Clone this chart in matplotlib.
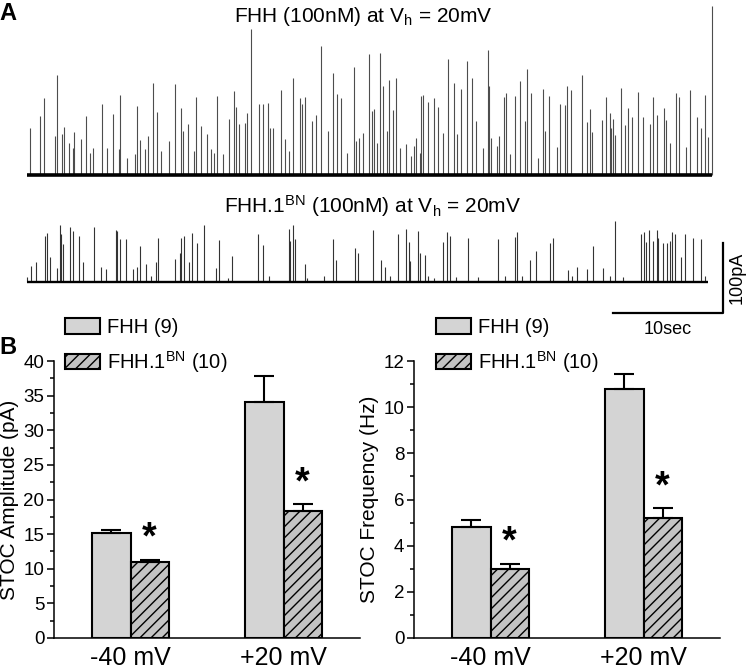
#!/usr/bin/env python3

import numpy as np
import matplotlib
matplotlib.use('Agg')
import matplotlib.pyplot as plt
import matplotlib.patches as mpatches

plt.rcParams['font.family'] = ['Liberation Sans', 'DejaVu Sans']
plt.rcParams['mathtext.fontset'] = 'custom'
plt.rcParams['mathtext.rm'] = 'Liberation Sans'
plt.rcParams['mathtext.it'] = 'Liberation Sans'
plt.rcParams['hatch.linewidth'] = 1.0

# STOC events: time (s), amplitude (pA)
fhh_t = [0.3, 1.2, 1.5, 2.5, 2.7, 3.2, 3.4, 3.8, 4.2, 4.3, 4.9, 5.4, 5.7, 6.0, 6.8, 7.3, 7.8,
         8.4, 8.5, 9.1, 9.8, 10.0, 10.3, 10.7, 11.0, 11.5, 11.8, 12.2, 12.9, 13.5, 14.0, 14.2,
         14.6, 15.2, 15.4, 15.8, 16.4, 16.7, 17.0, 17.3, 17.8, 18.4, 18.8, 19.0, 19.3, 19.8,
         20.0, 20.4, 21.1, 21.5, 21.9, 22.1, 22.4, 23.1, 23.5, 23.8, 24.2, 24.8, 25.0, 25.3,
         25.9, 26.3, 26.7, 27.4, 27.8, 28.2, 28.6, 29.1, 29.7, 29.9, 30.2, 30.6, 31.1, 31.4,
         31.6, 31.8, 32.1, 32.4, 32.7, 32.9, 33.3, 33.6, 33.9, 34.5, 34.9, 35.2, 35.4, 35.7,
         35.8, 36.0, 36.5, 37.0, 37.4, 37.8, 38.3, 38.8, 39.1, 39.5, 40.0, 40.5, 40.8, 41.5,
         41.9, 42.0, 42.2, 42.7, 42.9, 43.4, 43.6, 43.9, 44.4, 44.8, 45.3, 45.5, 45.8, 46.5,
         46.9, 47.1, 47.5, 48.2, 48.5, 48.9, 49.1, 49.5, 50.5, 50.9, 51.2, 51.4, 52.3, 52.7,
         53.0, 53.1, 53.3, 53.5, 54.0, 54.4, 54.7, 55.0, 55.6, 56.0, 56.7, 56.9, 57.3, 57.9,
         58.1, 58.5, 59.0, 59.3, 59.9, 60.3, 60.9, 61.3, 61.7, 61.9, 62.3]
fhh_a = [67, 84, 110, 56, 143, 58, 69, 46, 39, 62, 51, 84, 31, 39, 101, 39, 87,
         37, 114, 24, 30, 99, 50, 37, 56, 131, 90, 34, 49, 130, 96, 63,
         73, 34, 111, 70, 58, 37, 32, 113, 30, 80, 120, 97, 73, 74,
         89, 209, 101, 101, 103, 67, 67, 121, 51, 34, 139, 110, 101, 111,
         77, 86, 184, 63, 146, 116, 110, 32, 154, 49, 53, 60, 173, 91,
         94, 46, 174, 127, 63, 136, 93, 139, 39, 44, 27, 41, 53, 32,
         113, 114, 104, 110, 97, 60, 166, 131, 58, 123, 163, 139, 77, 39,
         179, 127, 53, 41, 56, 111, 117, 30, 113, 134, 77, 151, 117, 24,
         123, 63, 113, 40, 101, 100, 127, 121, 143, 76, 94, 62, 79, 111,
         89, 67, 80, 57, 124, 71, 96, 83, 119, 83, 73, 111, 86, 96,
         79, 46, 117, 111, 40, 121, 83, 67, 114, 54, 241]

bn_t = [0.0, 0.4, 0.8, 1.6, 1.8, 2.1, 2.7, 3.0, 3.1, 3.3, 3.9, 4.2, 4.7, 5.1, 6.1, 6.7, 7.2,
        8.1, 8.2, 8.5, 9.0, 9.6, 10.0, 10.3, 10.8, 11.3, 11.7, 11.9, 13.5, 13.9, 14.0, 14.3,
        14.7, 15.0, 15.5, 16.1, 17.2, 17.5, 18.3, 18.6, 21.0, 21.5, 22.0, 23.8, 23.9, 24.2,
        24.4, 25.3, 25.5, 27.0, 27.8, 28.1, 29.8, 30.1, 31.5, 32.2, 32.6, 33.0, 33.7, 34.5,
        34.7, 34.8, 35.6, 35.7, 36.2, 36.5, 37.0, 37.8, 38.2, 38.5, 39.0, 40.1, 41.0, 42.8,
        43.5, 44.4, 44.6, 45.0, 45.7, 46.3, 47.6, 47.8, 49.2, 49.6, 50.0, 50.9, 51.5, 52.4,
        53.0, 53.5, 54.2, 55.8, 56.1, 56.3, 56.6, 56.9, 57.3, 57.4, 57.8, 58.2, 58.5, 58.7,
        58.9, 59.5, 59.8, 60.6, 61.3, 61.7]
bn_a = [7, 23, 29, 65, 70, 35, 20, 82, 69, 54, 78, 73, 66, 29, 78, 21, 18,
        74, 73, 62, 61, 18, 21, 51, 26, 8, 28, 63, 33, 41, 63, 65,
        29, 70, 56, 81, 20, 60, 6, 37, 69, 53, 8, 76, 58, 81,
        61, 25, 6, 8, 61, 31, 49, 41, 74, 32, 21, 8, 68, 75,
        57, 30, 73, 41, 39, 8, 6, 57, 71, 65, 7, 63, 7, 61,
        8, 64, 71, 8, 31, 44, 55, 63, 17, 8, 21, 18, 51, 20,
        8, 87, 7, 69, 71, 57, 74, 58, 74, 63, 55, 55, 58, 72,
        68, 35, 69, 63, 62, 8]

fhh_end = 62.3
bn_end = 61.9

# Panel B summary data (mean, SEM)
groups = ['-40 mV', '+20 mV']
amp_fhh = [15.2, 34.1]
amp_fhh_err = [0.35, 3.8]
amp_bn = [11.0, 18.4]
amp_bn_err = [0.3, 0.9]
freq_fhh = [4.8, 10.8]
freq_fhh_err = [0.3, 0.63]
freq_bn = [3.0, 5.2]
freq_bn_err = [0.22, 0.43]
labels = ['FHH (9)', r'FHH.1$^{\mathregular{BN}}$ (10)']

W, H = 750, 669
fig = plt.figure(figsize=(W / 100, H / 100), dpi=100)


def frac(x0, y0, x1, y1):
    return [x0 / W, 1 - y1 / H, (x1 - x0) / W, (y1 - y0) / H]


# ---- Panel A: traces ----
axA = fig.add_axes(frac(20, 0, 745, 340))
axA.set_xlim(-0.64, 65.3)
axA.set_ylim(-236, 250)
axA.axis('off')

off2 = -153  # vertical offset of second trace (pA)
axA.vlines(fhh_t, 0, fhh_a, colors='0.3', lw=0.8)
axA.plot([0, fhh_end], [0, 0], color='black', lw=2.6, solid_capstyle='butt')
axA.vlines(np.array(bn_t), off2, off2 + np.array(bn_a), colors='0.2', lw=0.8)
axA.plot([0, bn_end], [off2, off2], color='black', lw=1.7, solid_capstyle='butt')

# scale bars
axA.plot([53.3, 63.3, 63.3], [-197, -197, -97], color='black', lw=1.6)
axA.text(64.6, -147, '100pA', rotation=90, ha='center', va='center', fontsize=13)
axA.text(58.3, -221, '10sec', ha='center', va='center', fontsize=13)

fig.text(363 / W, 1 - 16 / H, r'FHH (100nM) at V$_\mathregular{h}$ = 20mV',
         ha='center', va='center', fontsize=15)
fig.text(372 / W, 1 - 206 / H, r'FHH.1$^{\mathregular{BN}}$ (100nM) at V$_\mathregular{h}$ = 20mV',
         ha='center', va='center', fontsize=15)
fig.text(8 / W, 1 - 13 / H, 'A', ha='center', va='center', fontsize=17, fontweight='bold')
fig.text(8 / W, 1 - 347 / H, 'B', ha='center', va='center', fontsize=17, fontweight='bold')


# ---- Panel B: bar charts ----
def bar_panel(rect, fhh, fhh_err, bn, bn_err, ymax, major, minor, ylabel, leg_x):
    ax = fig.add_axes(frac(*rect))
    x = np.arange(len(groups))
    w = 0.25
    ax.bar(x - w / 2, fhh, w, color='#d4d4d4', edgecolor='black', lw=1.5, zorder=2)
    ax.bar(x + w / 2, bn, w, color='#c4c4c4', edgecolor='black', lw=1.5,
           hatch='///', zorder=2)
    ax.errorbar(x - w / 2, fhh, yerr=[np.zeros(len(fhh)), fhh_err], fmt='none',
                ecolor='black', elinewidth=1.5, capsize=7, capthick=1.5, zorder=3)
    ax.errorbar(x + w / 2, bn, yerr=[np.zeros(len(bn)), bn_err], fmt='none',
                ecolor='black', elinewidth=1.5, capsize=7, capthick=1.5, zorder=3)
    for xi, v, e in zip(x + w / 2, bn, bn_err):
        ax.annotate('*', (xi, v + e), xytext=(0, 15), textcoords='offset points',
                    ha='center', va='center', fontsize=27, fontweight='bold')
    ax.set_xlim(-0.5, 1.5)
    ax.set_ylim(0, ymax)
    ax.set_yticks(np.arange(0, ymax + 0.01, major))
    ax.set_yticks(np.arange(minor, ymax, major), minor=True)
    ax.set_xticks(x)
    ax.set_xticklabels(groups, fontsize=18)
    ax.tick_params(axis='x', length=0, pad=6)
    ax.tick_params(axis='y', which='major', length=5, width=1.1, labelsize=13.5, pad=2)
    ax.tick_params(axis='y', which='minor', length=3, width=1.1)
    ax.spines['top'].set_visible(False)
    ax.spines['right'].set_visible(False)
    ax.spines['left'].set_linewidth(1.1)
    ax.spines['bottom'].set_linewidth(1.1)
    ax.set_ylabel(ylabel, fontsize=15, labelpad=3)

    h1 = mpatches.Patch(facecolor='#d4d4d4', edgecolor='black', lw=1.5)
    h2 = mpatches.Patch(facecolor='#c4c4c4', edgecolor='black', lw=1.5, hatch='///')
    ax.legend([h1, h2], labels, loc='upper left',
              bbox_to_anchor=(leg_x / W, 1 - 318 / H), bbox_transform=fig.transFigure,
              frameon=False, fontsize=14.5, handlelength=1.75, handleheight=0.8,
              handletextpad=0.35, labelspacing=0.6, borderpad=0, borderaxespad=0)
    return ax


bar_panel((54, 361, 360, 638), amp_fhh, amp_fhh_err, amp_bn, amp_bn_err,
          40, 5, 2.5, 'STOC Amplitude (pA)', 65)
bar_panel((414, 361, 720, 638), freq_fhh, freq_fhh_err, freq_bn, freq_bn_err,
          12, 2, 1, 'STOC Frequency (Hz)', 436)

fig.savefig('out.png', dpi=100)
